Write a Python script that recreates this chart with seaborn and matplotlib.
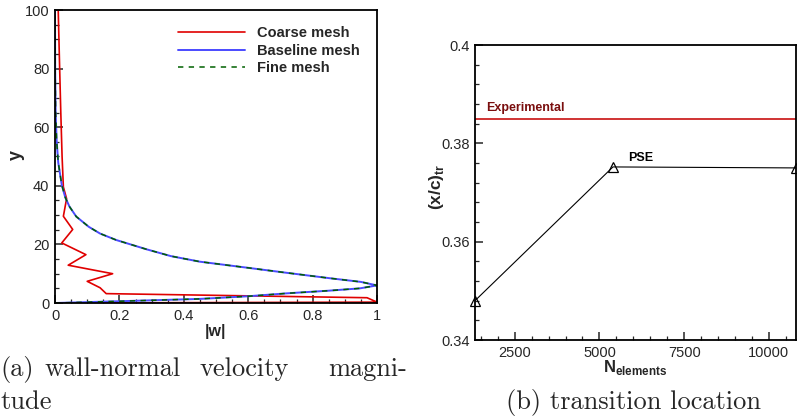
import numpy as np
import pandas as pd
import matplotlib
matplotlib.use("Agg")
import matplotlib.pyplot as plt
from matplotlib.ticker import MultipleLocator, FuncFormatter
import seaborn as sns

# ---------------- data (a) ----------------
coarse_w = [0.0, 1.0, 0.969, 0.159, 0.14, 0.10, 0.179, 0.041, 0.096, 0.021, 0.055,
            0.026, 0.036, 0.026, 0.022, 0.018, 0.014, 0.010]
coarse_y = [0.0, 0.3, 1.8, 3.2, 5.2, 7.4, 10.0, 12.9, 16.5, 20.5, 25.1,
            29.6, 35.6, 39.6, 50.0, 65.0, 82.0, 100.0]

base_y = [0, 0.6, 1.4, 2.3, 3.3, 4.2, 5.0, 6.0, 7.2, 8.5, 10.3, 12.0, 14.1, 16.0,
          18.3, 21.5, 23.7, 26.0, 29.5, 32.9, 36.0, 40.3, 48.0, 55.6, 65.0, 80.0, 100.0]
base_w = [0, 0.2, 0.45, 0.6, 0.72, 0.85, 0.947, 1.0, 0.95, 0.85, 0.72, 0.6, 0.45, 0.36,
          0.285, 0.19, 0.14, 0.105, 0.066, 0.045, 0.032, 0.021, 0.010, 0.005, 0.002, 0.0005, 0.0]

fine_y = [0, 0.6, 1.4, 2.3, 3.3, 4.2, 5.0, 6.0, 7.2, 8.5, 10.3, 12.0, 14.1, 16.0,
          18.3, 21.5, 23.7, 26.0, 29.5, 32.9, 36.0, 40.3, 48.0, 55.6, 65.0, 80.0, 100.0]
fine_w = [0, 0.2, 0.45, 0.6, 0.72, 0.85, 0.947, 1.0, 0.95, 0.85, 0.72, 0.6, 0.45, 0.36,
          0.285, 0.19, 0.14, 0.105, 0.066, 0.045, 0.032, 0.021, 0.010, 0.005, 0.002, 0.0005, 0.0]

series_labels = ["Coarse mesh", "Baseline mesh", "Fine mesh"]

# ---------------- data (b) ----------------
n_elements = [1330, 5400, 10800]
xc_tr = [0.348, 0.3752, 0.3750]
experimental = 0.385

xticks_b = [2500, 5000, 7500, 10000]
yticks_b = [0.34, 0.36, 0.38, 0.40]

# ---------------- style ----------------
sns.set_style("ticks")
plt.rcParams["font.family"] = ["Liberation Sans", "DejaVu Sans"]
plt.rcParams["mathtext.fontset"] = "custom"
plt.rcParams["mathtext.bf"] = "Liberation Sans:bold"
plt.rcParams["mathtext.rm"] = "Liberation Sans"
plt.rcParams["axes.linewidth"] = 1.2

fig = plt.figure(figsize=(7.97, 4.19), dpi=100)
ax1 = fig.add_axes([55/797, 1-303/419, 322/797, 293/419])
ax2 = fig.add_axes([475/797, 1-340/419, 321/797, 295/419])

fs = 10.5

# ----- panel a -----
sns.lineplot(x=coarse_w, y=coarse_y, sort=False, estimator=None, ax=ax1,
             color="#e00000", lw=1.2, label=series_labels[0])
sns.lineplot(x=base_w, y=base_y, sort=False, estimator=None, ax=ax1,
             color="#4a4aff", lw=1.4, label=series_labels[1])
sns.lineplot(x=fine_w, y=fine_y, sort=False, estimator=None, ax=ax1,
             color="#006000", lw=1.1, linestyle=(0, (3.5, 3.5)), label=series_labels[2])
ax1.set_xlim(0, 1)
ax1.set_ylim(0, 100)
ax1.xaxis.set_major_locator(MultipleLocator(0.2))
ax1.xaxis.set_minor_locator(MultipleLocator(0.05))
ax1.yaxis.set_major_locator(MultipleLocator(20))
ax1.yaxis.set_minor_locator(MultipleLocator(5))
fmt = FuncFormatter(lambda v, p: "%g" % round(v, 6))
ax1.xaxis.set_major_formatter(fmt)
ax1.yaxis.set_major_formatter(fmt)
ax1.set_xlabel("|w|", fontsize=fs+1, fontweight="bold", labelpad=1)
ax1.set_ylabel("y", fontsize=fs+2.5, fontweight="bold")
ax1.yaxis.set_label_coords((25-55)/322, (303-155)/293)
leg = ax1.legend(loc="upper left", bbox_to_anchor=(0.382, 0.945), frameon=False,
                 handlelength=4.6, handletextpad=0.8, labelspacing=0.25,
                 borderpad=0, borderaxespad=0, prop={"weight": "bold", "size": fs})

# ----- panel b -----
ax2.axhline(experimental, color="#c81010", lw=1.2)
sns.lineplot(x=n_elements, y=xc_tr, ax=ax2, color="black", lw=0.8,
             marker="^", markersize=7, markerfacecolor="none", markeredgecolor="black",
             markeredgewidth=0.9, clip_on=False, estimator=None, sort=False)
ax2.set_xlim(n_elements[0], n_elements[-1])
ax2.set_ylim(0.34, 0.40)
ax2.set_xticks(xticks_b)
ax2.set_yticks(yticks_b)
ax2.xaxis.set_minor_locator(MultipleLocator(500))
ax2.yaxis.set_minor_locator(MultipleLocator(0.004))
ax2.xaxis.set_major_formatter(fmt)
ax2.yaxis.set_major_formatter(fmt)
ax2.text(1650, 0.3871, "Experimental", color="#7a0e0e", fontsize=fs-1.5,
         fontweight="bold", va="center", ha="left")
ax2.text(5844, 0.3771, "PSE", color="black", fontsize=fs-1.5,
         fontweight="bold", va="center", ha="left")
ax2.set_xlabel(r"$\mathbf{N}_{\mathbf{elements}}$", fontsize=fs+1.5, labelpad=-1)
ax2.set_ylabel(r"$\mathbf{(x/c)}_{\mathbf{tr}}$", fontsize=fs+2)
ax2.yaxis.set_label_coords((446-475)/321, (340-187)/295)

for ax in (ax1, ax2):
    ax.tick_params(which="major", direction="in", length=6, width=1.1,
                   labelsize=fs, pad=4, top=False, right=False)
    ax.tick_params(which="minor", direction="in", length=3, width=0.9,
                   top=False, right=False)
    for s in ax.spines.values():
        s.set_visible(True)
        s.set_color("black")
        s.set_linewidth(1.3)

# ----- captions -----
cap = dict(fontsize=19, family=["cmr10", "DejaVu Serif"], va="center", ha="left")
fig.text(0/797, 1-369/419, "(a)", **cap)
fig.text(44/797, 1-369/419, "wall-normal", **cap)
fig.text(200/797, 1-369/419, "velocity", **cap)
fig.text(328/797, 1-369/419, "magni-", **cap)
fig.text(0/797, 1-402/419, "tude", **cap)
fig.text(506/797, 1-402/419, "(b) transition location", **cap)

fig.savefig("out.png", dpi=100)
